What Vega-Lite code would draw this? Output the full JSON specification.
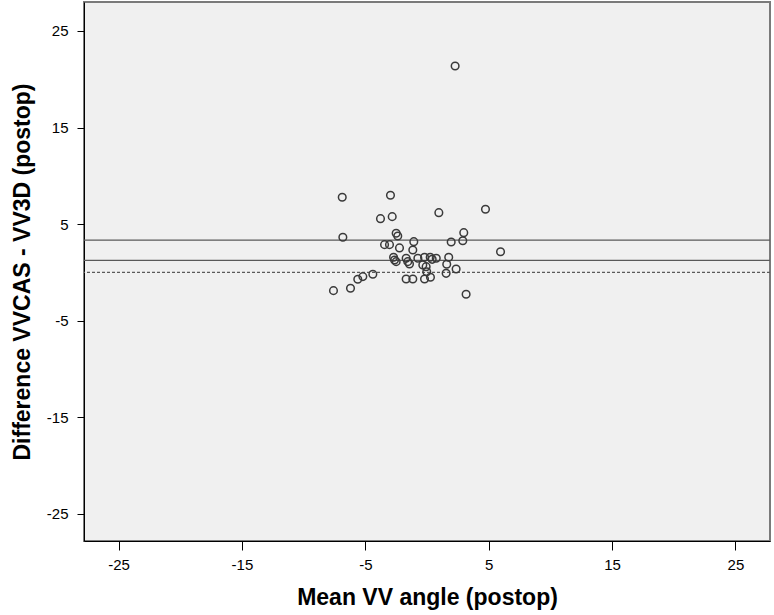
{
  "$schema": "https://vega.github.io/schema/vega-lite/v6.json",
  "autosize": "none",
  "width": 686,
  "height": 539,
  "padding": {"left": 84, "top": 2, "right": 4, "bottom": 74},
  "background": "white",
  "config": {
    "view": {"fill": "#f0f0f0", "stroke": "#7a7a7a", "strokeWidth": 2},
    "axis": {
      "grid": false,
      "domainColor": "#000000",
      "domainWidth": 1,
      "tickColor": "#000000",
      "labelFont": "Liberation Sans",
      "labelFontSize": 15,
      "labelColor": "#000000",
      "labelExpr": "'' + datum.value",
      "titleFont": "Liberation Sans",
      "titleFontSize": 23,
      "titleFontWeight": "bold",
      "titleColor": "#000000"
    }
  },
  "datasets": {
    "pts": [
      {"mean": -6.87, "diff": 7.78},
      {"mean": -2.96, "diff": 7.99},
      {"mean": 4.74, "diff": 6.54},
      {"mean": 0.96, "diff": 6.19},
      {"mean": -3.77, "diff": 5.57},
      {"mean": -2.82, "diff": 5.78},
      {"mean": -6.82, "diff": 3.64},
      {"mean": -2.5, "diff": 4.06},
      {"mean": -2.37, "diff": 3.78},
      {"mean": 2.98, "diff": 4.12},
      {"mean": 2.9, "diff": 3.29},
      {"mean": 1.96, "diff": 3.16},
      {"mean": -1.07, "diff": 3.19},
      {"mean": -3.44, "diff": 2.88},
      {"mean": -3.04, "diff": 2.88},
      {"mean": -2.23, "diff": 2.54},
      {"mean": -1.15, "diff": 2.33},
      {"mean": 5.96, "diff": 2.15},
      {"mean": -2.71, "diff": 1.57},
      {"mean": -2.63, "diff": 1.29},
      {"mean": -2.5, "diff": 1.12},
      {"mean": -1.69, "diff": 1.47},
      {"mean": -1.56, "diff": 1.12},
      {"mean": -1.42, "diff": 0.88},
      {"mean": -0.74, "diff": 1.47},
      {"mean": -0.2, "diff": 1.57},
      {"mean": 0.26, "diff": 1.57},
      {"mean": 0.42, "diff": 1.36},
      {"mean": 0.75, "diff": 1.47},
      {"mean": 1.76, "diff": 1.57},
      {"mean": -0.34, "diff": 0.78},
      {"mean": -0.07, "diff": 0.6},
      {"mean": 1.6, "diff": 0.85},
      {"mean": -0.02, "diff": 0.08},
      {"mean": 2.36, "diff": 0.36},
      {"mean": 1.55, "diff": -0.09},
      {"mean": 0.28, "diff": -0.5},
      {"mean": -0.2, "diff": -0.67},
      {"mean": -1.69, "diff": -0.67},
      {"mean": -1.15, "diff": -0.67},
      {"mean": -4.39, "diff": -0.19},
      {"mean": -5.2, "diff": -0.43},
      {"mean": -5.61, "diff": -0.7},
      {"mean": -6.2, "diff": -1.64},
      {"mean": -7.58, "diff": -1.88},
      {"mean": 3.17, "diff": -2.26},
      {"mean": 2.28, "diff": 21.38}
    ],
    "lines": [
      {"y": 3.35, "kind": "limit"},
      {"y": 1.25, "kind": "mean"},
      {"y": 0, "kind": "zero"}
    ]
  },
  "layer": [
    {
      "data": {"name": "lines"},
      "transform": [{"filter": "datum.kind != 'zero'"}],
      "mark": {"type": "rule", "color": "#5a5a5a", "strokeWidth": 1.3},
      "encoding": {
        "y": {"field": "y", "type": "quantitative", "scale": {"domain": [-27.8, 28.0], "nice": false, "zero": false}}
      }
    },
    {
      "data": {"name": "lines"},
      "transform": [{"filter": "datum.kind == 'zero'"}],
      "mark": {"type": "rule", "color": "#5a5a5a", "strokeWidth": 1.2, "strokeDash": [3, 2]},
      "encoding": {
        "y": {"field": "y", "type": "quantitative"}
      }
    },
    {
      "data": {"name": "pts"},
      "mark": {"type": "point", "shape": "circle", "filled": false, "size": 58, "stroke": "#3a3a3a", "strokeWidth": 1.5, "opacity": 1},
      "encoding": {
        "x": {
          "field": "mean", "type": "quantitative",
          "scale": {"domain": [-27.8, 27.8], "nice": false, "zero": false},
          "axis": {"values": [-25, -15, -5, 5, 15, 25], "tickSize": 9, "labelPadding": 7, "title": "Mean VV angle (postop)", "titlePadding": 14}
        },
        "y": {
          "field": "diff", "type": "quantitative",
          "scale": {"domain": [-27.8, 28.0], "nice": false, "zero": false},
          "axis": {"values": [-25, -15, -5, 5, 15, 25], "tickSize": 7, "labelPadding": 9, "title": "Difference  VVCAS - VV3D (postop)", "titlePadding": 12}
        }
      }
    }
  ]
}
